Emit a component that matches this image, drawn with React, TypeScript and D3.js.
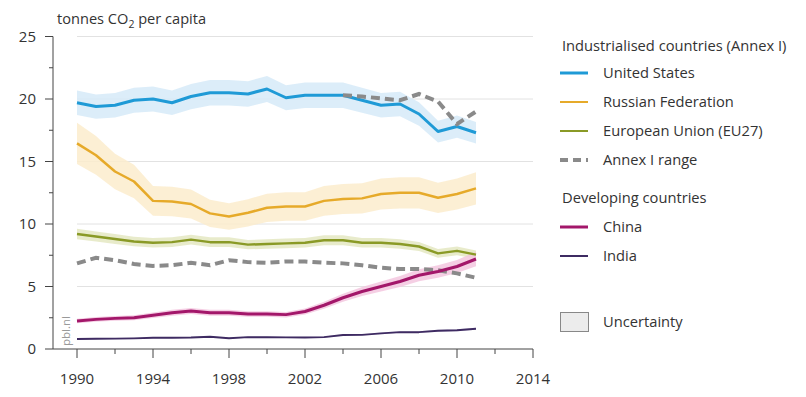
import React from "react";
import * as d3 from "d3";

// years 1990-2011
const years = d3.range(1990, 2012);

// tonnes CO2 per capita
const unitedStates = [19.7, 19.4, 19.5, 19.9, 20.0, 19.7, 20.2, 20.5, 20.5, 20.4, 20.8, 20.1, 20.3, 20.3, 20.3, 19.9, 19.5, 19.6, 18.8, 17.4, 17.8, 17.3];
const russia = [16.45, 15.5, 14.2, 13.4, 11.85, 11.8, 11.6, 10.85, 10.6, 10.9, 11.3, 11.4, 11.4, 11.85, 12.0, 12.05, 12.4, 12.5, 12.5, 12.1, 12.4, 12.85];
const eu27 = [9.2, 9.0, 8.8, 8.6, 8.5, 8.55, 8.75, 8.55, 8.55, 8.35, 8.4, 8.45, 8.5, 8.7, 8.7, 8.5, 8.5, 8.4, 8.2, 7.65, 7.85, 7.55];
const china = [2.24, 2.37, 2.45, 2.5, 2.7, 2.9, 3.04, 2.9, 2.9, 2.8, 2.8, 2.75, 3.0, 3.5, 4.1, 4.6, 5.0, 5.4, 5.9, 6.2, 6.6, 7.2];
const india = [0.8, 0.82, 0.83, 0.85, 0.9, 0.9, 0.92, 0.98, 0.86, 0.95, 0.95, 0.93, 0.93, 0.95, 1.12, 1.13, 1.25, 1.35, 1.35, 1.46, 1.5, 1.62];

// Annex I range: upper edge only visible from 2004, lower edge whole period
const annexUpperYears = d3.range(2004, 2012);
const annexUpper = [20.3, 20.2, 20.05, 19.9, 20.4, 19.8, 18.0, 19.0];
const annexLower = [6.85, 7.3, 7.1, 6.8, 6.65, 6.7, 6.9, 6.7, 7.1, 6.95, 6.9, 7.0, 7.0, 6.9, 6.85, 6.7, 6.5, 6.4, 6.4, 6.3, 6.05, 5.7];

// relative uncertainty (half band width) per series
const uncertainty = { us: 0.05, russia: 0.1, eu: 0.045, china: 0.08, india: 0.05 };

const yTicks = [0, 5, 10, 15, 20, 25];
const yMinorTicks = [2.5, 7.5, 12.5, 17.5, 22.5];
const xTicks = [1990, 1994, 1998, 2002, 2006, 2010, 2014];
const xMinorTicks = [1992, 1996, 2000, 2004, 2008, 2012];

const series = [
  { key: "us", values: unitedStates, color: "#1f9ad6", band: "#d6eaf8", width: 3 },
  { key: "russia", values: russia, color: "#e6aa2a", band: "#fbeccd", width: 2.5 },
  { key: "eu", values: eu27, color: "#8a9a26", band: "#e4e7c2", width: 2.5 },
  { key: "china", values: china, color: "#a3176a", band: "#f3c7df", width: 3 },
  { key: "india", values: india, color: "#3e2b62", band: "#dcd6e6", width: 2 },
];

const font = "'Open Sans', 'Noto Sans', sans-serif";
const textColor = "#333";

export default function App() {
  const x = d3.scaleLinear().domain([1990, 2014]).range([77, 533]);
  const y = d3.scaleLinear().domain([0, 25]).range([349, 36.5]);

  const line = d3
    .line<number>()
    .x((_, i) => x(years[i]))
    .y((d) => y(d));

  const upperLine = d3
    .line<number>()
    .x((_, i) => x(annexUpperYears[i]))
    .y((d) => y(d));

  const area = (vals: number[], u: number) =>
    d3
      .area<number>()
      .x((_, i) => x(years[i]))
      .y0((d) => y(d * (1 - u)))
      .y1((d) => y(d * (1 + u)))(vals) || "";

  const legendX = 560;
  const legend1 = [
    { label: "United States", color: "#1f9ad6", dash: "", y: 73, w: 3 },
    { label: "Russian Federation", color: "#e6aa2a", dash: "", y: 102, w: 2 },
    { label: "European Union (EU27)", color: "#8a9a26", dash: "", y: 131, w: 2 },
    { label: "Annex I range", color: "#8a8a8a", dash: "8,5", y: 160, w: 4 },
  ];
  const legend2 = [
    { label: "China", color: "#a3176a", y: 227, w: 3 },
    { label: "India", color: "#3e2b62", y: 256, w: 2 },
  ];

  const lf = 14.7;

  return (
    <svg width={806} height={397} style={{ display: "block", position: "absolute", left: 0, top: 0 }} fontFamily={font}>
      <rect width={806} height={397} fill="#fff" />

      {/* title */}
      <text x={57} y={24} fontSize={14.6} fill={textColor}>
        tonnes CO
        <tspan fontSize={10.5} dy={4}>2</tspan>
        <tspan dy={-4}> per capita</tspan>
      </text>

      {/* gridlines */}
      {yTicks.filter((t) => t > 0).map((t) => (
        <line key={"g" + t} x1={77} x2={533} y1={y(t)} y2={y(t)} stroke="#e2e2e2" strokeWidth={1} />
      ))}

      {/* y axis */}
      <line x1={53} x2={53} y1={y(25)} y2={y(0)} stroke="#444" strokeWidth={1} />
      {yTicks.map((t) => (
        <g key={"y" + t}>
          <line x1={45} x2={53} y1={y(t)} y2={y(t)} stroke="#444" />
          <text x={36} y={y(t)} dy="0.35em" textAnchor="end" fontSize={15} fill={textColor}>
            {t}
          </text>
        </g>
      ))}
      {yMinorTicks.map((t) => (
        <line key={"ym" + t} x1={49} x2={53} y1={y(t)} y2={y(t)} stroke="#444" />
      ))}

      {/* x axis */}
      <line x1={53} x2={533} y1={y(0)} y2={y(0)} stroke="#444" strokeWidth={1} />
      {xTicks.map((t) => (
        <g key={"x" + t}>
          <line x1={x(t)} x2={x(t)} y1={y(0)} y2={y(0) + 9} stroke="#444" />
          <text x={x(t)} y={384} textAnchor="middle" fontSize={15} fill={textColor}>
            {t}
          </text>
        </g>
      ))}
      {xMinorTicks.map((t) => (
        <line key={"xm" + t} x1={x(t)} x2={x(t)} y1={y(0)} y2={y(0) + 5} stroke="#444" />
      ))}

      <text transform={`translate(70,${y(0) - 3}) rotate(-90)`} fontSize={11.5} fill="#999">
        pbl.nl
      </text>

      {/* uncertainty bands */}
      {series.map((s) => (
        <path key={"b" + s.key} d={area(s.values, (uncertainty as any)[s.key])} fill={s.band} opacity={0.85} />
      ))}

      {/* Annex I range */}
      <path d={line(annexLower) || ""} fill="none" stroke="#8a8a8a" strokeWidth={4} strokeDasharray="9,5" />

      {/* lines */}
      {series.map((s) => (
        <path key={"l" + s.key} d={line(s.values) || ""} fill="none" stroke={s.color} strokeWidth={s.width} strokeLinejoin="round" />
      ))}
      <path d={upperLine(annexUpper) || ""} fill="none" stroke="#8a8a8a" strokeWidth={4} strokeDasharray="9,5" />

      {/* legend */}
      <text x={562} y={51} fontSize={lf} fill={textColor}>
        Industrialised countries (Annex I)
      </text>
      {legend1.map((d) => (
        <g key={d.label}>
          <line x1={legendX} x2={legendX + 28} y1={d.y} y2={d.y} stroke={d.color} strokeWidth={d.w} strokeDasharray={d.dash || undefined} />
          <text x={603} y={d.y} dy="0.35em" fontSize={lf} fill={textColor}>
            {d.label}
          </text>
        </g>
      ))}
      <text x={562} y={203} fontSize={lf} fill={textColor}>
        Developing countries
      </text>
      {legend2.map((d) => (
        <g key={d.label}>
          <line x1={legendX} x2={legendX + 28} y1={d.y} y2={d.y} stroke={d.color} strokeWidth={d.w} />
          <text x={603} y={d.y} dy="0.35em" fontSize={lf} fill={textColor}>
            {d.label}
          </text>
        </g>
      ))}
      <rect x={560.5} y={312.5} width={28} height={19} fill="#ececec" stroke="#888" strokeWidth={1} />
      <text x={603} y={322} dy="0.35em" fontSize={lf} fill={textColor}>
        Uncertainty
      </text>
    </svg>
  );
}
